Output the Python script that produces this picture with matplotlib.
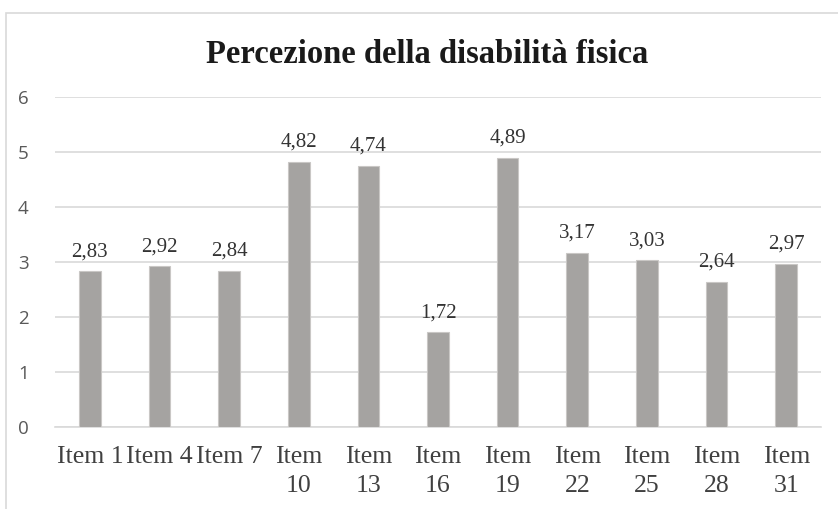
import matplotlib.pyplot as plt
from matplotlib.patches import Rectangle

# Chart data
items = ['Item 1', 'Item 4', 'Item 7', 'Item 10', 'Item 13', 'Item 16',
         'Item 19', 'Item 22', 'Item 25', 'Item 28', 'Item 31']
values = [2.83, 2.92, 2.84, 4.82, 4.74, 1.72, 4.89, 3.17, 3.03, 2.64, 2.97]
y_ticks = [0, 1, 2, 3, 4, 5, 6]

W, H = 838, 509
fig = plt.figure(figsize=(W / 100, H / 100), dpi=100)

# outer chart border (cut off on right and bottom)
fig.patches.append(Rectangle((6 / W, -0.1), 1.2, 1 - 13 / H + 0.1,
                             transform=fig.transFigure, fill=False,
                             edgecolor='#d9d9d9', linewidth=1.2))

ax = fig.add_axes([55 / W, 1 - 427 / H, (821 - 55) / W, (427 - 97) / H])

x = range(len(items))
ax.bar(x, values, width=0.31, color='#a5a3a1', edgecolor='#c9c7c5',
       linewidth=0.8, zorder=3)

# value labels with comma decimal
for xi, v in zip(x, values):
    ax.annotate(f'{v:.2f}'.replace('.', ','), (xi, v), xytext=(0, 11),
                textcoords='offset points', ha='center', va='baseline',
                fontsize=15, family='Liberation Serif', color='#333333')

ax.set_xlim(-0.5, len(items) - 0.5)
ax.set_ylim(0, 6)
ax.set_yticks(y_ticks)
ax.set_yticklabels([str(t) for t in y_ticks], family='Open Sans',
                   fontsize=13.5, color='#595959')
ax.yaxis.grid(True, color='#d9d9d9', linewidth=1.2, zorder=0)

labels = [s if len(s) <= 6 else s.replace(' ', '\n') for s in items]
ax.set_xticks(list(x))
ax.set_xticklabels(labels, family='Liberation Serif', fontsize=18.5,
                   color='#404040', linespacing=1.4)

ax.tick_params(axis='x', length=0, pad=14)
ax.tick_params(axis='y', length=0, pad=19)
for side in ['top', 'right', 'left']:
    ax.spines[side].set_visible(False)
ax.spines['bottom'].set_color('#d9d9d9')
ax.spines['bottom'].set_linewidth(1.2)

fig.text(427 / W, 1 - 63 / H, 'Percezione della disabilità fisica',
         ha='center', va='baseline', family='Liberation Serif',
         fontweight='bold', fontsize=23.5, color='#1a1a1a')

fig.savefig('out.png', dpi=100)
